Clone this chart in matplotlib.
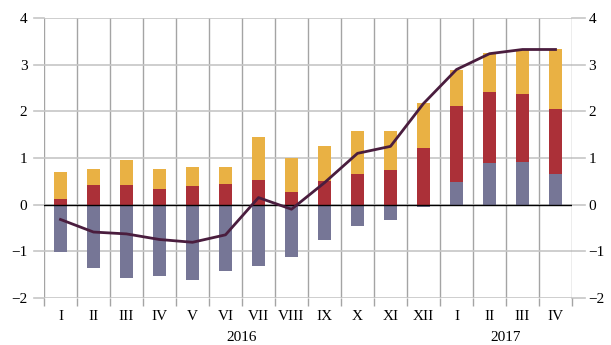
import numpy as np
import matplotlib.pyplot as plt
from matplotlib.ticker import FixedLocator

# categories: months of 2016, then quarters of 2017
labels = ["I", "II", "III", "IV", "V", "VI", "VII", "VIII", "IX", "X", "XI", "XII",
          "I", "II", "III", "IV"]
years = ["2016", "2017"]

# bar components
purple = [-1.01, -1.37, -1.58, -1.53, -1.62, -1.43, -1.32, -1.13, -0.77, -0.47, -0.34, -0.06,
          0.49, 0.90, 0.92, 0.65]
red = [0.13, 0.42, 0.42, 0.34, 0.40, 0.44, 0.52, 0.28, 0.51, 0.65, 0.75, 1.21,
       1.62, 1.52, 1.45, 1.40]
yellow = [0.57, 0.35, 0.53, 0.43, 0.41, 0.36, 0.94, 0.72, 0.75, 0.92, 0.83, 0.98,
          0.79, 0.83, 0.96, 1.28]
total = [-0.32, -0.59, -0.63, -0.75, -0.81, -0.65, 0.15, -0.10, 0.47, 1.10, 1.25, 2.17,
         2.90, 3.24, 3.33, 3.33]

plt.rcParams['font.family'] = ['Liberation Serif', 'DejaVu Serif']

c_purple = '#767696'
c_red = '#AB3038'
c_yellow = '#E9B144'
c_line = '#4A1D3E'
c_hgrid = '#c6c6c6'
c_vgrid = '#a4a4a4'

fig = plt.figure(figsize=(6.11, 3.45), dpi=100)
ax = fig.add_axes([44 / 611, 1 - 297.7 / 345, 528 / 611, (297.7 - 18.3) / 345])

x = np.arange(len(labels))
p = np.array(purple)
base_red = np.maximum(p, 0)
w = 0.4

ax.bar(x, p, w, color=c_purple, zorder=3)
ax.bar(x, red, w, bottom=base_red, color=c_red, zorder=3)
ax.bar(x, yellow, w, bottom=base_red + np.array(red), color=c_yellow, zorder=3)
ax.plot(x, total, color=c_line, lw=2, zorder=5)
ax.axhline(0, color='black', lw=1, zorder=4)

ax.set_xlim(-0.5, len(labels) - 0.5)
ax.set_ylim(-2, 4)

for s in ax.spines.values():
    s.set_visible(False)

# horizontal grid + ticks on both sides
ax.set_yticks(range(-2, 5))
ax.set_yticklabels([str(v).replace('-', '\u2212') for v in range(-2, 5)])
ax.yaxis.grid(True, color=c_hgrid, lw=1.2, zorder=0)
ax.tick_params(axis='y', which='major', left=True, right=True, labelleft=True,
               labelright=True, length=0, labelsize=11, pad=12)
for v in range(-2, 5):
    ax.plot([-0.5 - 10 / 33, -0.5], [v, v], color=c_hgrid, lw=1.2, clip_on=False, zorder=0)
    ax.plot([len(labels) - 0.5, len(labels) - 0.5 + 13 / 33], [v, v], color=c_hgrid,
            lw=1.2, clip_on=False, zorder=0)

# vertical grid at category boundaries
ax.xaxis.set_minor_locator(FixedLocator(np.arange(-0.5, len(labels), 1)))
ax.xaxis.grid(True, which='minor', color=c_vgrid, lw=1, zorder=0)
ax.tick_params(axis='x', which='minor', length=6, color=c_vgrid, width=1)
ax.set_xticks(x)
ax.set_xticklabels(labels)
ax.tick_params(axis='x', which='major', length=0, labelsize=11, pad=9)

ax.text(5.5, -2.86, years[0], ha='center', va='center', fontsize=11)
ax.text(13.5, -2.86, years[1], ha='center', va='center', fontsize=11)

fig.savefig('out.png', dpi=100)
